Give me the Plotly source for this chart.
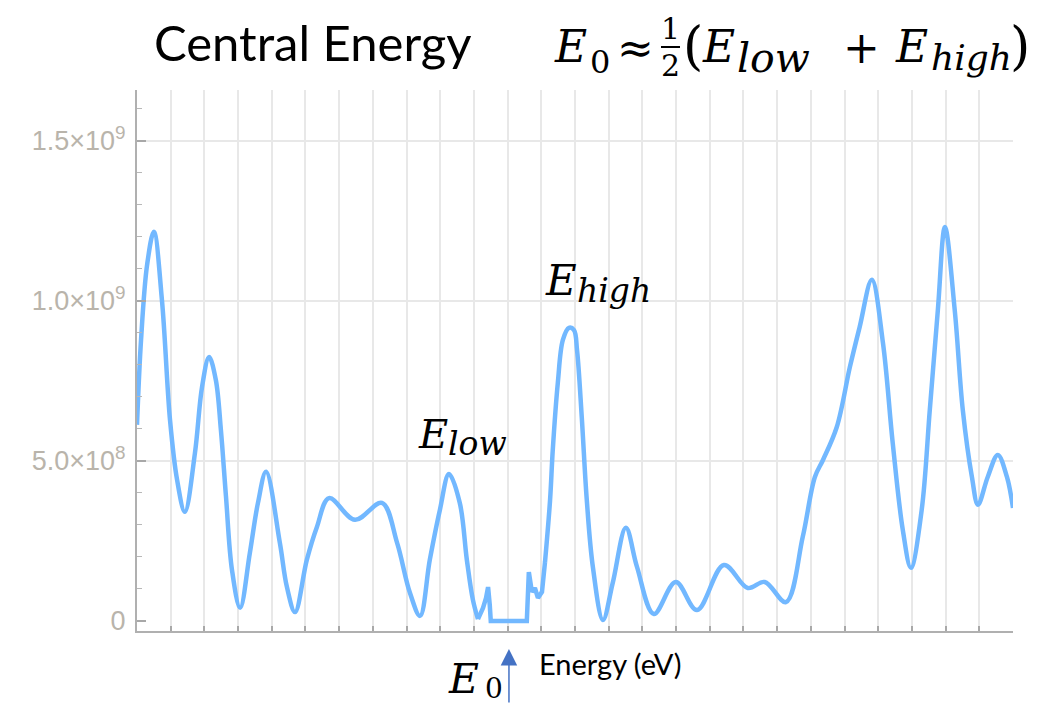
import plotly.graph_objects as go

# Spectrum read along the energy axis (grid units) and intensity (units of 1e8)
smooth_left_x = [0.00, 0.12, 0.30, 0.50, 0.74, 0.98, 1.19, 1.42, 1.72, 1.93, 2.14, 2.34, 2.49, 2.64, 2.82,
                 3.06, 3.35, 3.59, 3.83, 4.24, 4.45, 4.69, 5.04, 5.34, 5.70, 6.47, 7.27, 7.72, 8.10,
                 8.40, 8.69, 8.99, 9.26, 9.58, 9.79, 9.97, 10.12]
smooth_left_y = [6.13, 8.78, 11.13, 12.16, 10.03, 6.28, 4.41, 3.41, 5.25, 7.31, 8.25, 7.53, 5.97, 3.90, 1.59,
                 0.41, 2.13, 3.69, 4.66, 2.44, 1.06, 0.28, 1.91, 2.94, 3.84, 3.16, 3.69, 2.44, 0.88,
                 0.16, 1.91, 3.47, 4.59, 3.69, 1.91, 0.66, 0.06]

gap_x = [10.12, 10.27, 10.36, 10.42, 10.47, 10.50, 11.57, 11.63, 11.72, 11.81, 11.90, 12.02, 12.11]
gap_y = [0.06, 0.41, 0.72, 1.06, 0.50, 0.00, 0.00, 1.53, 0.91, 1.03, 0.72, 0.91, 1.84]

smooth_right_x = [12.11, 12.26, 12.34, 12.49, 12.64, 12.82, 12.97, 13.06, 13.20, 13.35, 13.53, 13.83,
                  14.12, 14.51, 14.84, 15.34, 15.99, 16.62, 17.42, 18.13, 18.63, 19.26, 19.76, 20.12,
                  20.36, 20.77, 21.16, 21.45, 21.81, 22.14, 22.43, 22.73, 22.97, 23.29, 23.53, 23.77,
                  23.98, 24.27, 24.51, 24.78, 24.96, 25.25, 25.55, 25.82, 26.00]
smooth_right_y = [1.84, 3.78, 5.34, 7.44, 8.78, 9.16, 9.09, 8.47, 6.38, 3.78, 1.69, 0.03,
                  1.19, 2.91, 1.69, 0.22, 1.22, 0.34, 1.75, 1.03, 1.22, 0.59, 2.63, 4.50,
                  5.03, 6.06, 7.94, 9.19, 10.66, 8.69, 5.56, 2.84, 1.66, 3.47, 6.59, 9.72,
                  12.31, 9.72, 6.59, 4.50, 3.63, 4.50, 5.19, 4.50, 3.53]

SCALE = 1e8
y_tick_vals = [0, 5e8, 1e9, 1.5e9]
y_tick_text = ["0", "5.0×10<sup>8</sup>", "1.0×10<sup>9</sup>", "1.5×10<sup>9</sup>"]
x_grid = list(range(0, 27))

# Peak positions used for the labels
E_low_x, E_low_y = 9.26, 4.59
E_high_x, E_high_y = 12.82, 9.16
E0_x = 0.5 * (E_low_x + E_high_x)

LINE = dict(color="#72B8FF", width=4.5)

fig = go.Figure()
fig.add_trace(go.Scatter(x=smooth_left_x, y=[v * SCALE for v in smooth_left_y], mode="lines",
                         line=dict(shape="spline", smoothing=1.0, **LINE), hoverinfo="skip"))
fig.add_trace(go.Scatter(x=gap_x, y=[v * SCALE for v in gap_y], mode="lines",
                         line=dict(shape="linear", **LINE), hoverinfo="skip"))
fig.add_trace(go.Scatter(x=smooth_right_x, y=[v * SCALE for v in smooth_right_y], mode="lines",
                         line=dict(shape="spline", smoothing=1.0, **LINE), hoverinfo="skip"))

W, H = 1043, 704
L, R, T, B = 137, 30, 90, 73


def px(x):
    return (x - L) / (W - L - R)


def py(y):
    return (H - B - y) / (H - T - B)


SERIF = "DejaVu Serif"
ann = []


def put(text, x, y, size, family=SERIF, italic=True, xanchor="left"):
    body = f"<i>{text}</i>" if italic else text
    ann.append(dict(text=body, x=px(x), y=py(y), xref="paper", yref="paper",
                    xanchor=xanchor, yanchor="middle", showarrow=False,
                    font=dict(family=family, size=size, color="black")))


# horizontal grid lines
shapes = []
for v in y_tick_vals[1:]:
    shapes.append(dict(type="line", xref="paper", yref="y", x0=0, x1=1, y0=v, y1=v,
                       line=dict(color="#e8e8e8", width=2), layer="below"))
# fraction bar of 1/2
shapes.append(dict(type="line", xref="paper", yref="paper", x0=px(661), x1=px(680),
                   y0=py(47), y1=py(47), line=dict(color="black", width=2)))

# title
put("Central Energy", 312, 42, 49, family="Lato", italic=False, xanchor="center")

# E0 ≈ 1/2 (E_low + E_high)
put("E", 552, 46, 44)
put("0", 588, 62, 32, italic=False)
put("≈", 615, 48, 44, italic=False)
put("1", 670, 28, 30, italic=False, xanchor="center")
put("2", 670, 65, 30, italic=False, xanchor="center")
put("(", 681, 46, 52, italic=False)
put("E", 700, 46, 44)
put("low", 735, 58, 41)
put("+", 841, 48, 44, italic=False)
put("E", 893, 46, 44)
put("high", 929, 58, 36)
put(")", 1008, 46, 52, italic=False)

# peak labels
put("E", 416, 434, 40)
put("low", 446, 443, 33)
put("E", 543, 280, 42)
put("high", 575, 290, 33)
put("E", 446, 679, 41)
put("0", 483, 688, 28, italic=False)

put("Energy (eV)", 537, 663, 29, family="Lato", italic=False)

# arrow pointing at the central energy
ann.append(dict(text="", x=E0_x, y=py(649), xref="x", yref="paper", ax=0, ay=56,
                showarrow=True, arrowhead=2, arrowsize=2.2, arrowwidth=1.5, arrowcolor="#4472C4"))

fig.update_layout(
    width=W, height=H, margin=dict(l=L, r=R, t=T, b=B),
    plot_bgcolor="white", paper_bgcolor="white", showlegend=False,
    shapes=shapes, annotations=ann,
    xaxis=dict(range=[0, 26], tickmode="array", tickvals=x_grid, showticklabels=False,
               ticks="inside", ticklen=5, tickwidth=1.5, tickcolor="#a8a8a8",
               showgrid=True, gridcolor="#e8e8e8", gridwidth=2, zeroline=False,
               showline=True, linecolor="#b0b0b0", linewidth=2),
    yaxis=dict(range=[-0.3125e8, 16.59e8], tickmode="array", tickvals=y_tick_vals,
               ticktext=y_tick_text, ticks="inside", ticklen=9, tickwidth=1.5, tickcolor="#a8a8a8",
               minor=dict(tickmode="linear", tick0=0, dtick=1e8, ticks="inside", ticklen=5,
                          tickcolor="#b8b8b8", tickwidth=1.2, showgrid=False),
               showgrid=False, zeroline=False, showline=True, linecolor="#b0b0b0", linewidth=2,
               tickfont=dict(family="Liberation Sans", size=27, color="#b9b4ab"), ticklabelstandoff=4),
)

fig.write_html("out.html")
